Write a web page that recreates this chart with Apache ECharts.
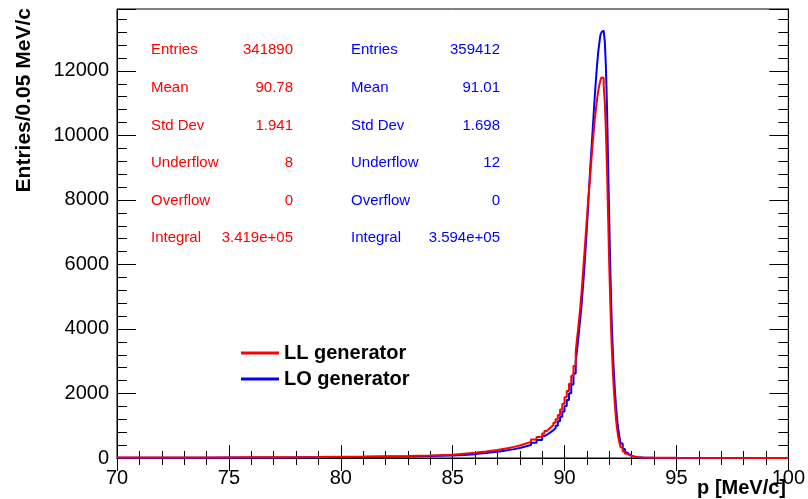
<!DOCTYPE html>
<html>
<head>
<meta charset="utf-8">
<script src="https://cdn.jsdelivr.net/npm/echarts@6/dist/echarts.min.js"></script>
<style>
  html, body { margin: 0; padding: 0; background: #fff; }
  #main { width: 808px; height: 499px; }
</style>
</head>
<body>
<div id="main"></div>
<script>
// bin low edges (last entry closes the last bin)
const binEdges = [
  70, 71, 72, 73, 74, 75, 76, 77, 78, 79, 80, 81, 82, 83, 84,
  85, 85.5,
  86, 86.25, 86.5, 86.75, 87, 87.25, 87.5, 87.75, 88, 88.25, 88.5, 88.75,
  89.0, 89.1, 89.2, 89.3, 89.4, 89.5, 89.6, 89.7, 89.8, 89.9, 90.0, 90.1, 90.2, 90.3, 90.4,
  90.5, 90.55, 90.6, 90.65, 90.7, 90.75, 90.8, 90.85, 90.9, 90.95,
  91.0, 91.05, 91.1, 91.15, 91.2, 91.25, 91.3, 91.35, 91.4, 91.45,
  91.5, 91.55, 91.6, 91.65, 91.7, 91.75, 91.8, 91.85, 91.9, 91.95,
  92.0, 92.05, 92.1, 92.15, 92.2, 92.25, 92.3, 92.35, 92.4, 92.45,
  92.5, 92.6, 92.7, 92.8, 92.9, 93.0, 93.1, 93.2, 93.3, 93.4,
  93.5, 94, 95,
  100
]

// LL generator (red)
const llCounts = [
  12, 13, 14, 16, 18, 20, 23, 27, 32, 38, 45, 55, 65, 80, 100,
  130, 160,
  185, 200, 225, 250, 280, 310, 345, 390, 440, 500, 570, 650,
  760, 840, 900, 960, 1020, 1090, 1200, 1330, 1500, 1680, 1880, 2080, 2300, 2550, 2850,
  3300, 3650, 3950, 4300, 4650, 5050, 5500, 6000, 6450, 6950,
  7450, 7950, 8350, 8800, 9250, 9700, 10100, 10500, 10800, 11100,
  11350, 11550, 11700, 11800, 11780, 11550, 11000, 10100, 8900, 7400,
  5900, 4700, 3600, 2800, 2150, 1650, 1200, 900, 650, 480,
  330, 200, 130, 90, 65, 45, 32, 23, 16, 12,
  8, 4, 1
]

// LO generator (blue)
const loCounts = [
  8, 9, 10, 11, 13, 15, 17, 20, 24, 28, 34, 42, 50, 62, 78,
  95, 120,
  140, 155, 175, 195, 220, 245, 275, 310, 355, 405, 470, 560,
  680, 720, 760, 810, 860, 920, 1000, 1140, 1280, 1440, 1610, 1800, 2010, 2280, 2620,
  3000, 3300, 3600, 3950, 4300, 4650, 5100, 5550, 6050, 6600,
  7150, 7750, 8400, 9000, 9550, 10100, 10650, 11200, 11700, 12150,
  12550, 12850, 13100, 13200, 13250, 13200, 12900, 12100, 10800, 9000,
  7300, 5700, 4400, 3450, 2700, 2100, 1600, 1200, 900, 680,
  450, 280, 170, 110, 75, 50, 35, 25, 18, 12,
  7, 3, 1
]

const statLabels = ['Entries', 'Mean', 'Std Dev', 'Underflow', 'Overflow', 'Integral']
const llStats = ['341890', '90.78', '1.941', '8', '0', '3.419e+05']
const loStats = ['359412', '91.01', '1.698', '12', '0', '3.594e+05']

const font = '"Liberation Sans", Arial, Helvetica, sans-serif'

function steps(counts) {
  const pts = counts.map((c, i) => [binEdges[i], c])
  pts.push([binEdges[binEdges.length - 1], counts[counts.length - 1]])
  return pts
}

// stats box texts
const statRows = [50, 88, 126, 163, 201, 238]
const statTexts = []
statLabels.forEach((lab, i) => {
  statTexts.push(
    { type: 'text', x: 151, y: statRows[i], style: { text: lab, fill: '#ff0000', font: '15px ' + font, verticalAlign: 'middle' } },
    { type: 'text', x: 293, y: statRows[i], style: { text: llStats[i], fill: '#ff0000', font: '15px ' + font, align: 'right', verticalAlign: 'middle' } },
    { type: 'text', x: 351, y: statRows[i], style: { text: lab, fill: '#0000ff', font: '15px ' + font, verticalAlign: 'middle' } },
    { type: 'text', x: 500, y: statRows[i], style: { text: loStats[i], fill: '#0000ff', font: '15px ' + font, align: 'right', verticalAlign: 'middle' } }
  )
})

const chart = echarts.init(document.getElementById('main'))

const tickStyle = { color: '#000', width: 1 }

chart.setOption({
  animation: false,
  backgroundColor: '#fff',
  grid: {
    left: 117, right: 19, top: 9, bottom: 41,
    show: true, borderColor: '#000', borderWidth: 1
  },
  legend: {
    orient: 'vertical',
    left: 236,
    top: 338,
    icon: 'rect',
    itemWidth: 38,
    itemHeight: 3,
    itemGap: 6,
    data: ['LL generator', 'LO generator'],
    textStyle: { fontFamily: font, fontSize: 20, fontWeight: 'bold', color: '#000' }
  },
  xAxis: [
    {
      type: 'value', min: 70, max: 100, interval: 5,
      axisLine: { lineStyle: { color: '#000' } },
      axisTick: { inside: true, length: 13, lineStyle: tickStyle },
      minorTick: { show: true, splitNumber: 5, length: 7, lineStyle: tickStyle },
      splitLine: { show: false },
      axisLabel: { color: '#000', fontFamily: font, fontSize: 20, margin: 10 }
    },
    {
      type: 'value', min: 70, max: 100, interval: 5, position: 'top',
      axisLine: { lineStyle: { color: '#000' } },
      axisTick: { inside: true, length: 13, lineStyle: tickStyle },
      minorTick: { show: true, splitNumber: 5, length: 7, lineStyle: tickStyle },
      splitLine: { show: false },
      axisLabel: { show: false }
    }
  ],
  yAxis: [
    {
      type: 'value', min: 0, max: 13920, interval: 2000,
      axisLine: { show: true, lineStyle: { color: '#000' } },
      axisTick: { show: true, inside: true, length: 19, lineStyle: tickStyle },
      minorTick: { show: true, splitNumber: 5, length: 10, lineStyle: tickStyle },
      splitLine: { show: false },
      axisLabel: {
        color: '#000', fontFamily: font, fontSize: 20, margin: 8,
        formatter: (v) => (v % 2000 === 0 ? String(v) : '')
      }
    },
    {
      type: 'value', min: 0, max: 13920, interval: 2000, position: 'right',
      axisLine: { show: true, lineStyle: { color: '#000' } },
      axisTick: { show: true, inside: true, length: 19, lineStyle: tickStyle },
      minorTick: { show: true, splitNumber: 5, length: 10, lineStyle: tickStyle },
      splitLine: { show: false },
      axisLabel: { show: false }
    }
  ],
  series: [
    {
      name: 'LO generator', type: 'line', step: 'end',
      data: steps(loCounts), showSymbol: false, symbol: 'none',
      lineStyle: { color: '#0000ff', width: 2 }, itemStyle: { color: '#0000ff' }
    },
    {
      name: 'LL generator', type: 'line', step: 'end',
      data: steps(llCounts), showSymbol: false, symbol: 'none',
      lineStyle: { color: '#ff0000', width: 2 }, itemStyle: { color: '#ff0000' }
    }
  ],
  graphic: [
    {
      type: 'text', x: 24, y: 8, rotation: Math.PI / 2,
      style: { text: 'Entries/0.05 MeV/c', fill: '#000', font: 'bold 21px ' + font, align: 'right', verticalAlign: 'middle' }
    },
    {
      type: 'text', x: 786, y: 488,
      style: { text: 'p [MeV/c]', fill: '#000', font: 'bold 20px ' + font, align: 'right', verticalAlign: 'middle' }
    }
  ].concat(statTexts)
})
</script>
</body>
</html>
